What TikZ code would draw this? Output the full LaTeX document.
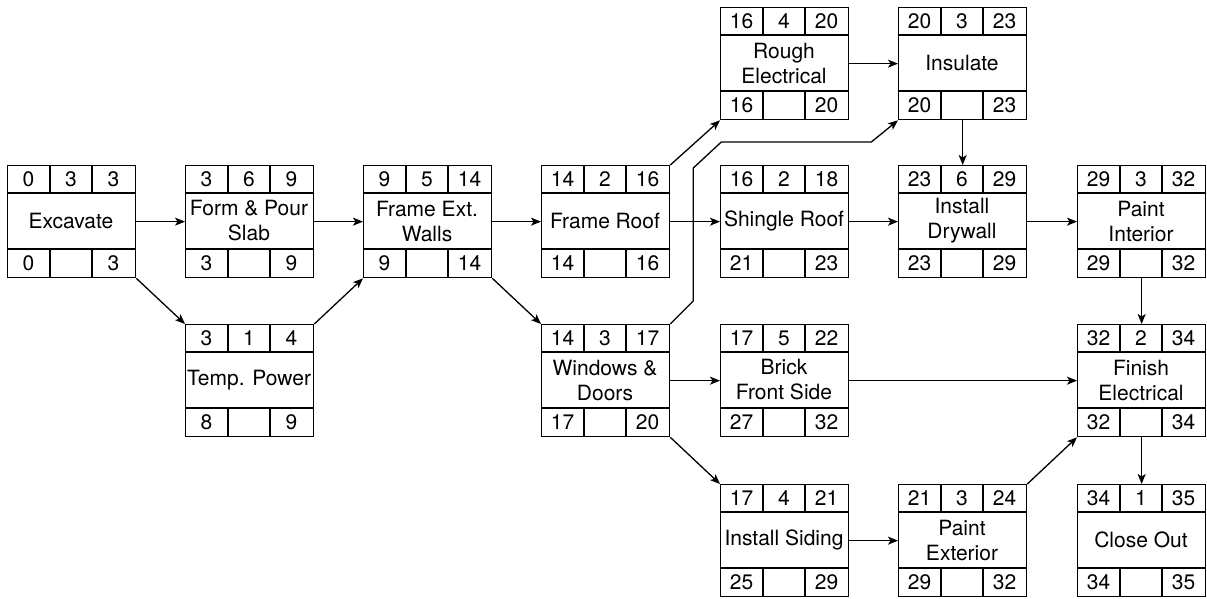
\documentclass[tikz,border=0pt]{standalone}
\usepackage{fontspec}
\setmainfont{TeX Gyre Heros}
\usetikzlibrary{arrows.meta}
\newcommand\dgmfont{\fontsize{21}{25}\selectfont}
\tikzset{
  actbox/.style={draw, line width=1.3pt, minimum width=128pt, minimum height=112pt, inner sep=0pt, anchor=north west},
  cell/.style={inner sep=0pt, font=\dgmfont},
  title/.style={align=center, inner sep=0pt, font=\dgmfont},
  divider/.style={line width=1.3pt},
  link/.style={line width=1.3pt, -{Stealth[length=10pt,width=8pt,inset=2.5pt]}}
}
% name, x, y, ES, dur, EF, text, LS, LF
\newcommand\actbox[9]{%
  \node[actbox] (#1) at (#2,#3) {};
  \draw[divider] (#2,#3+28) -- (#2+128,#3+28) (#2,#3+84) -- (#2+128,#3+84)
    (#2+43,#3) -- (#2+43,#3+28) (#2+85,#3) -- (#2+85,#3+28)
    (#2+43,#3+84) -- (#2+43,#3+112) (#2+85,#3+84) -- (#2+85,#3+112);
  \node[cell] (#1-es) at (#2+21.5,#3+14) {#4};
  \node[cell] (#1-du) at (#2+64,#3+14) {#5};
  \node[cell] (#1-ef) at (#2+106.5,#3+14) {#6};
  \node[title] (#1-t) at (#2+64,#3+56) {#7};
  \node[cell] (#1-ls) at (#2+21.5,#3+98) {#8};
  \node[cell] (#1-lf) at (#2+106.5,#3+98) {#9};
}
\begin{document}
\begin{tikzpicture}[x=1pt,y=-1pt]
\useasboundingbox (0,0) rectangle (1207,598);
% row 0
\actbox{rough}{720}{7}{16}{4}{20}{Rough\\Electrical}{16}{20}
\actbox{ins}{898}{7}{20}{3}{23}{Insulate}{20}{23}
% row 1
\actbox{exc}{7}{165}{0}{3}{3}{Excavate}{0}{3}
\actbox{form}{185}{165}{3}{6}{9}{Form \& Pour\\Slab}{3}{9}
\actbox{fext}{363}{165}{9}{5}{14}{Frame Ext.\\Walls}{9}{14}
\actbox{froof}{541}{165}{14}{2}{16}{Frame Roof}{14}{16}
\actbox{shingle}{720}{165}{16}{2}{18}{Shingle Roof}{21}{23}
\actbox{dry}{898}{165}{23}{6}{29}{Install\\Drywall}{23}{29}
\actbox{pint}{1077}{165}{29}{3}{32}{Paint\\Interior}{29}{32}
% row 2
\actbox{temp}{185}{324}{3}{1}{4}{Temp. Power}{8}{9}
\actbox{win}{541}{324}{14}{3}{17}{Windows \&\\Doors}{17}{20}
\actbox{brick}{720}{324}{17}{5}{22}{Brick\\Front Side}{27}{32}
\actbox{fin}{1077}{324}{32}{2}{34}{Finish\\Electrical}{32}{34}
% row 3
\actbox{sid}{720}{484}{17}{4}{21}{Install Siding}{25}{29}
\actbox{pext}{898}{484}{21}{3}{24}{Paint\\Exterior}{29}{32}
\actbox{close}{1077}{484}{34}{1}{35}{Close Out}{34}{35}
% connectors
\draw[link] (exc.east) -- (form.west);
\draw[link] (exc.south east) -- (temp.north west);
\draw[link] (form.east) -- (fext.west);
\draw[link] (temp.north east) -- (fext.south west);
\draw[link] (fext.east) -- (froof.west);
\draw[link] (fext.south east) -- (win.north west);
\draw[link] (froof.north east) -- (rough.south west);
\draw[link] (froof.east) -- (shingle.west);
\draw[link] (rough.east) -- (ins.west);
\draw[link] (win.north east) -- ++(23,-23) -- ++(0,-133) -- ++(28,-26) -- ++(150,0) -- (ins.south west);
\draw[link] (ins.south) -- (dry.north);
\draw[link] (shingle.east) -- (dry.west);
\draw[link] (dry.east) -- (pint.west);
\draw[link] (pint.south) -- (fin.north);
\draw[link] (win.east) -- (brick.west);
\draw[link] (brick.east) -- (fin.west);
\draw[link] (win.south east) -- (sid.north west);
\draw[link] (sid.east) -- (pext.west);
\draw[link] (pext.north east) -- (fin.south west);
\draw[link] (fin.south) -- (close.north);
\end{tikzpicture}
\end{document}
